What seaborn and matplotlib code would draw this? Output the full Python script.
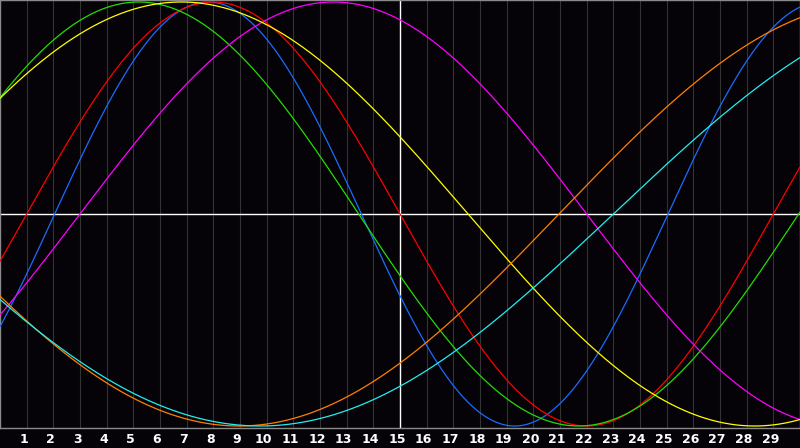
import numpy as np
import pandas as pd
import seaborn as sns
import matplotlib.pyplot as plt
from matplotlib.transforms import ScaledTranslation

# biorhythm cycles: length in days and the chart day on which each one peaks
cycle_names = ["physical", "emotional", "intellectual", "intuitive",
               "aesthetic", "awareness", "spiritual"]
cycle_length = [23, 28, 33, 38, 43, 48, 53]
peak_day = [7.8, 8.0, 5.2, 12.5, 6.8, 32.96, 36.25]
cycle_colors = ["#1a6cff", "#ff0000", "#22dd00", "#ff00ff",
                "#ffff00", "#ff8000", "#22eeee"]

day_labels = [str(d) for d in range(1, 30)]
today = 15

sns.set_style("dark")
plt.rcParams["font.family"] = ["DejaVu Sans"]

t = np.linspace(0, 30, 601)
frames = []
for name, length, peak in zip(cycle_names, cycle_length, peak_day):
    frames.append(pd.DataFrame({"day": t, "cycle": name,
                                "value": np.cos(2 * np.pi * (t - peak) / length)}))
df = pd.concat(frames)

fig = plt.figure(figsize=(8, 4.48), dpi=100, facecolor="#050308")
ax = fig.add_axes([0, 20 / 448, 1, 428 / 448])
ax.set_facecolor("#050308")

# day grid
for d in range(1, 30):
    ax.axvline(d, color="#333333", lw=0.8, zorder=1)
ax.axvline(today, color="white", lw=1, zorder=2)
ax.axhline(0, color="white", lw=1, zorder=2)

sns.lineplot(data=df, x="day", y="value", hue="cycle", palette=cycle_colors,
             hue_order=cycle_names, linewidth=0.9, legend=False, ax=ax,
             zorder=3, sort=False)

ax.set_xlim(0, 30)
ax.set_ylim(-1.0094, 1.0094)
ax.set_xticks(range(1, 30))
ax.set_xticklabels(day_labels, color="white", fontsize=9, fontweight="bold")
ax.set_yticks([])
ax.set_xlabel("")
ax.set_ylabel("")
ax.grid(False)
ax.tick_params(axis="x", length=0, pad=3.5)
offset = ScaledTranslation(-3 / 100, 0, fig.dpi_scale_trans)
for lab in ax.get_xticklabels():
    lab.set_transform(lab.get_transform() + offset)
for sp in ax.spines.values():
    sp.set_visible(True)
    sp.set_color("#8a8a8a")
    sp.set_linewidth(1)

fig.savefig("out.png", dpi=100, facecolor=fig.get_facecolor())
